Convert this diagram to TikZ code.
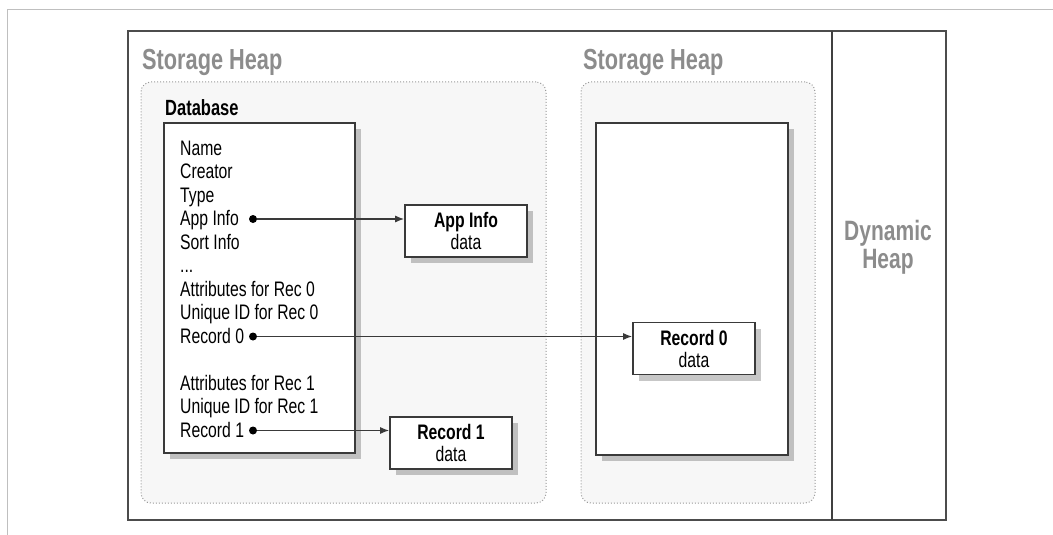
\documentclass[tikz,border=0pt]{standalone}
\usepackage{fontspec}
\setmainfont[FakeStretch=0.75]{Liberation Sans}
\usetikzlibrary{arrows.meta,shadows}
\definecolor{heapgray}{HTML}{8C8C8C}
\definecolor{linegray}{HTML}{3A3A3A}
\definecolor{areafill}{HTML}{F7F7F7}

\begin{document}
\begin{tikzpicture}[x=1pt, y=-1pt,
  heaplabel/.style={text=heapgray, inner sep=0, font=\bfseries\fontsize{29}{28}\selectfont},
  area/.style={draw=black!40, dotted, line width=1pt, rounded corners=10pt, fill=areafill, inner sep=0},
  membox/.style={draw=linegray, line width=1.6pt, fill=white, inner sep=0,
    drop shadow={shadow xshift=6pt, shadow yshift=-6pt, fill=black, opacity=0.22}},
  field/.style={anchor=base west, inner sep=0, font=\fontsize{21}{23.5}\selectfont},
  datbox/.style={membox, minimum width=122pt, minimum height=52pt, align=center, font=\fontsize{21}{22}\selectfont},
  dot/.style={circle, fill=black, inner sep=0, minimum size=8pt},
  ptr/.style={-{Latex[length=9pt,width=7pt]}, line width=1.3pt, draw=linegray}]

  \useasboundingbox (0,0) rectangle (1053,535);
  \draw[black!25, line width=1pt] (1053,10) -- (7,10) -- (7,535);

  \node[draw=black!70, line width=1.5pt, minimum width=818pt, minimum height=489pt, inner sep=0] (heap) at (537,275.5) {};
  \draw[black!75, line width=1.5pt] (832,31) -- (832,520);

  \node[area, minimum width=405pt, minimum height=421pt] (leftarea) at (343.5,292.5) {};
  \node[area, minimum width=234pt, minimum height=421pt] (rightarea) at (698,292.5) {};

  \node[heaplabel, anchor=base west] (leftlabel) at (142,70) {Storage Heap};
  \node[heaplabel, anchor=base west] (rightlabel) at (583,70) {Storage Heap};
  \node[heaplabel, align=center, font=\bfseries\fontsize{28}{28}\selectfont] (dynlabel) at (888,247) {Dynamic\\Heap};

  \node[anchor=base west, inner sep=0, font=\bfseries\fontsize{22}{24}\selectfont] (dbtitle) at (165,115) {Database};
  \node[membox, minimum width=191pt, minimum height=330pt] (dbbox) at (259.5,288) {};
  \node[membox, minimum width=192pt, minimum height=332pt] (chunkbox) at (692,289) {};

  \node[field] (name) at (180,155) {Name};
  \node[field] (creator) at (180,178.5) {Creator};
  \node[field] (type) at (180,202) {Type};
  \node[field] (appinfotxt) at (180,225.5) {App Info};
  \node[field] (sortinfo) at (180,249) {Sort Info};
  \node[field] (more) at (180,272.5) {...};
  \node[field] (attrzero) at (180,296) {Attributes for Rec 0};
  \node[field] (uidzero) at (180,319.5) {Unique ID for Rec 0};
  \node[field] (reczerotxt) at (180,343) {Record 0};
  \node[field] (attrone) at (180,390) {Attributes for Rec 1};
  \node[field] (uidone) at (180,413.5) {Unique ID for Rec 1};
  \node[field] (reconetxt) at (180,437) {Record 1};

  \node[datbox] (appinfo) at (466,231) {\textbf{App Info}\\data};
  \node[datbox] (recone) at (451,443) {\textbf{Record 1}\\data};
  \node[datbox] (reczero) at (694,348.5) {\textbf{Record 0}\\data};

  \node[dot] (appdot) at (253,219) {};
  \node[dot] (reczerodot) at (253,336.5) {};
  \node[dot] (reconedot) at (253,430.5) {};

  \draw[ptr] (appdot) -- (appdot -| appinfo.west);
  \draw[ptr] (reczerodot) -- (reczerodot -| reczero.west);
  \draw[ptr] (reconedot) -- (reconedot -| recone.west);
\end{tikzpicture}
\end{document}
